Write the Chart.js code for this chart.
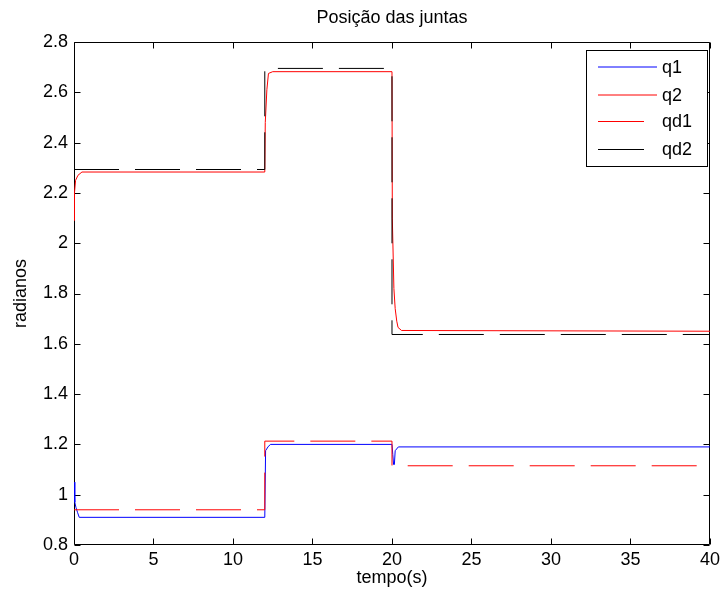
<!DOCTYPE html>
<html>
<head>
<meta charset="utf-8">
<title>Posição das juntas</title>
<script src="https://cdn.jsdelivr.net/npm/chart.js@4.4.1/dist/chart.umd.min.js"></script>
<style>
  body { margin: 0; background: #fff; }
  canvas { display: block; }
</style>
</head>
<body>
<canvas id="grafico" width="724" height="601"></canvas>
<script>
// valores (tempo em s, posição em rad)
const tempoQ1 = [0, 0.05, 0.12, 0.22, 0.33, 12, 12.05, 12.2, 12.35, 20, 20.05, 20.1, 20.15, 20.2, 20.4, 40];
const q1 = [1.05, 0.97, 0.95, 0.93, 0.91, 0.91, 1.175, 1.19, 1.2, 1.2, 1.16, 1.12, 1.12, 1.175, 1.19, 1.19];

const tempoQ2 = [0, 0.03, 0.1, 0.25, 0.5, 12, 12.03, 12.13, 12.23, 12.5, 20, 20.02, 20.12, 20.2, 20.3, 20.38, 20.6, 40];
const q2 = [2.09, 2.2, 2.25, 2.27, 2.283, 2.283, 2.48, 2.61, 2.675, 2.682, 2.682, 2.1, 1.82, 1.74, 1.69, 1.665, 1.653, 1.65];

const tempoRef = [0, 12, 12, 20, 20, 40];
const qd1 = [0.94, 0.94, 1.213, 1.213, 1.115, 1.115];
const qd2 = [2.293, 2.293, 2.695, 2.695, 1.637, 1.637];

const titulo = 'Posição das juntas';
const fonte = "'Liberation Sans', Arial, sans-serif";

function pontos(tempos, valores) {
    return tempos.map((t, i) => ({ x: t, y: valores[i] }));
}

// caixa e marcas internas (por baixo das curvas, como no MATLAB)
const moldura = {
    id: 'moldura',
    beforeDatasetsDraw(chart) {
        const { ctx, chartArea: a, scales: { x, y } } = chart;
        const L = Math.round(a.left) + 0.5;
        const R = Math.round(a.right) - 0.5;
        const T = Math.round(a.top) + 0.5;
        const B = Math.round(a.bottom) - 0.5;
        ctx.save();
        ctx.lineWidth = 1;
        ctx.strokeStyle = '#000000';
        ctx.beginPath();
        ctx.rect(L, T, R - L, B - T);
        x.ticks.forEach(t => {
            const px = Math.round(x.getPixelForValue(t.value)) + 0.5;
            ctx.moveTo(px, B); ctx.lineTo(px, B - 6);
            ctx.moveTo(px, T); ctx.lineTo(px, T + 6);
        });
        y.ticks.forEach(t => {
            const py = Math.round(y.getPixelForValue(t.value)) + 0.5;
            ctx.moveTo(L, py); ctx.lineTo(L + 6, py);
            ctx.moveTo(R, py); ctx.lineTo(R - 6, py);
        });
        ctx.stroke();

        ctx.font = '18px ' + fonte;
        ctx.fillStyle = '#000000';
        ctx.textAlign = 'center';
        ctx.textBaseline = 'middle';
        ctx.fillText(titulo, (a.left + a.right) / 2, 18);
        ctx.restore();
    },
    // legenda por cima de tudo
    afterDatasetsDraw(chart) {
        const { ctx } = chart;
        ctx.save();
        ctx.setLineDash([]);
        ctx.lineWidth = 1;
        ctx.fillStyle = '#ffffff';
        ctx.fillRect(586, 50, 121, 116);
        ctx.strokeStyle = '#000000';
        ctx.strokeRect(586.5, 50.5, 121, 116);
        const linhas = [67, 95, 121, 149];
        chart.data.datasets.forEach((ds, i) => {
            if (i < 2) {
                ctx.strokeStyle = ds.borderColor;
                ctx.beginPath();
                ctx.moveTo(598, linhas[i]);
                ctx.lineTo(657, linhas[i]);
                ctx.stroke();
            } else {
                ctx.fillStyle = ds.borderColor;
                ctx.fillRect(598, linhas[i], 46, 1);
            }
        });
        ctx.font = '18px ' + fonte;
        ctx.textAlign = 'left';
        ctx.textBaseline = 'middle';
        ctx.fillStyle = '#000000';
        chart.data.datasets.forEach((ds, i) => {
            ctx.fillText(ds.label, 662, linhas[i] + 1.5);
        });
        ctx.restore();
    }
};

new Chart(document.getElementById('grafico'), {
    type: 'line',
    data: {
        datasets: [
            { label: 'q1', data: pontos(tempoQ1, q1), borderColor: '#0000ff', order: 4 },
            { label: 'q2', data: pontos(tempoQ2, q2), borderColor: '#ff0000', order: 3 },
            { label: 'qd1', data: pontos(tempoRef, qd1), borderColor: '#ff0000', borderDash: [45, 16], order: 2 },
            { label: 'qd2', data: pontos(tempoRef, qd2), borderColor: '#000000', borderDash: [45, 16], order: 1 }
        ]
    },
    options: {
        responsive: false,
        animation: false,
        events: [],
        elements: {
            line: { borderWidth: 1, tension: 0, fill: false },
            point: { radius: 0 }
        },
        layout: { padding: { top: 42, right: 13, bottom: 0, left: 0 } },
        scales: {
            x: {
                type: 'linear',
                min: 0,
                max: 40,
                grid: { display: false, drawTicks: false },
                border: { display: false },
                ticks: { stepSize: 5, color: '#000', padding: 4, font: { family: fonte, size: 18 } },
                title: { display: true, text: 'tempo(s)', color: '#000', padding: { top: 0, bottom: 12 }, font: { family: fonte, size: 18 } },
                afterFit: s => { s.height = 56; }
            },
            y: {
                min: 0.8,
                max: 2.8,
                grid: { display: false, drawTicks: false },
                border: { display: false },
                ticks: {
                    stepSize: 0.2,
                    color: '#000',
                    padding: 6,
                    font: { family: fonte, size: 18 },
                    callback: v => String(Math.round(v * 10) / 10)
                },
                title: { display: true, text: 'radianos', color: '#000', padding: { top: 10, bottom: 0 }, font: { family: fonte, size: 18 } },
                afterFit: s => { s.width = 74; }
            }
        },
        plugins: {
            legend: { display: false },
            tooltip: { enabled: false },
            title: { display: false }
        }
    },
    plugins: [moldura]
});
</script>
</body>
</html>
